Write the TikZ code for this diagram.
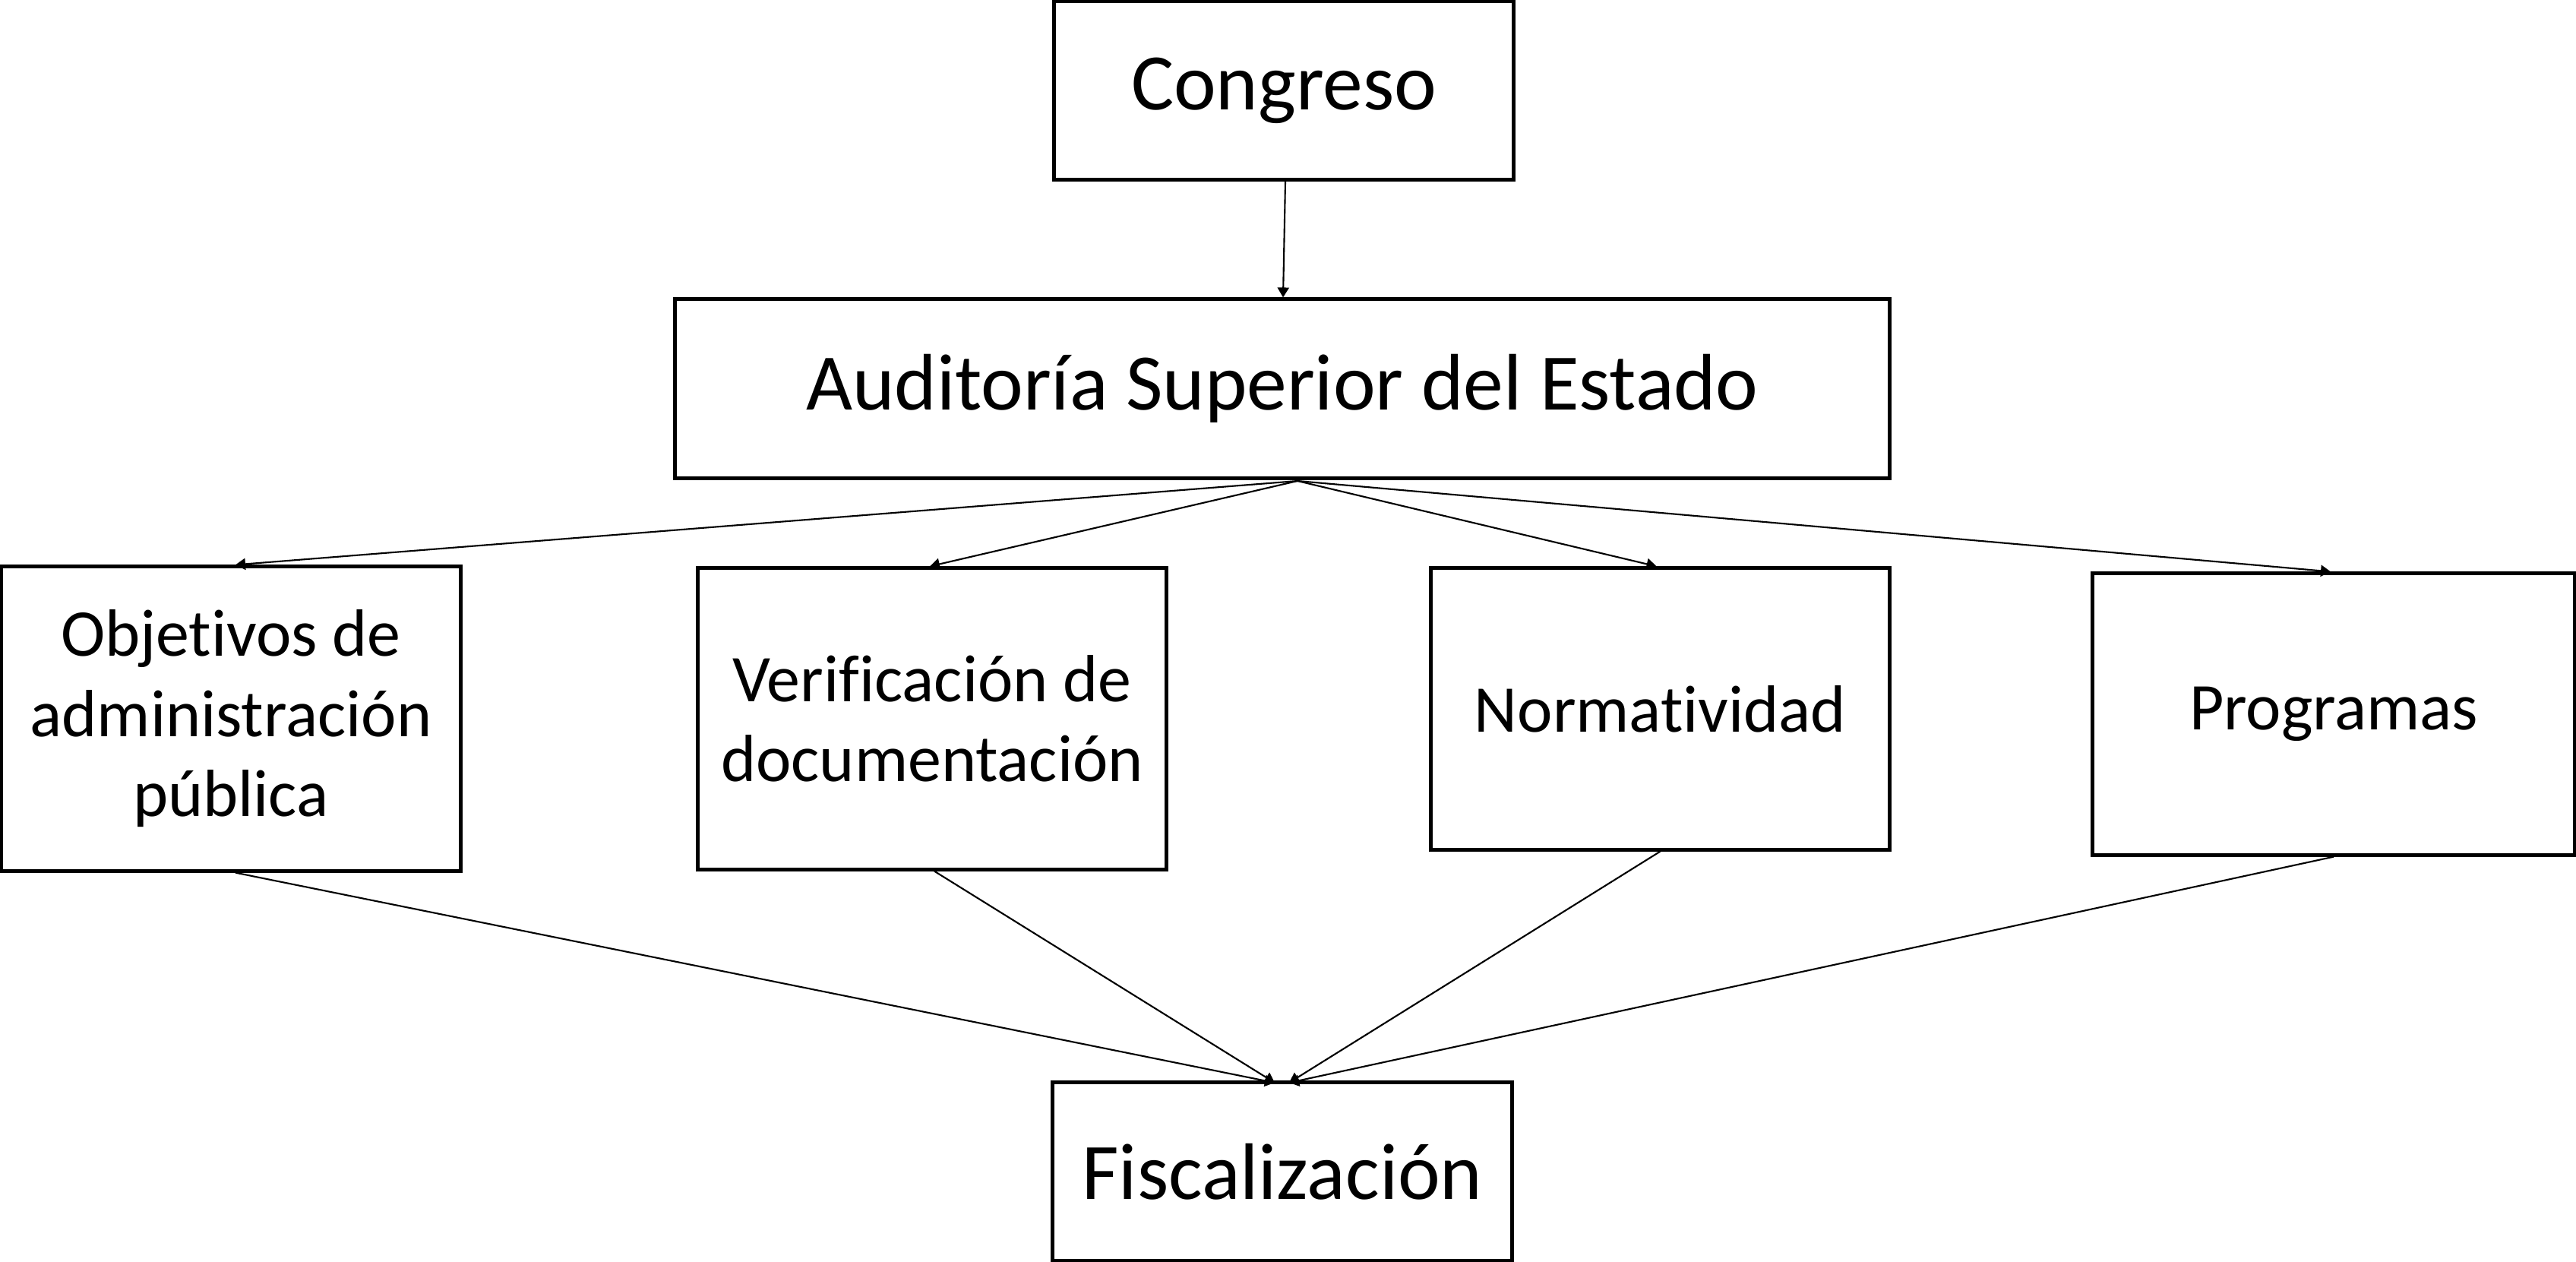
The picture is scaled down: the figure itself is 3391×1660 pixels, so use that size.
\documentclass[tikz,border=0pt]{standalone}
\usepackage{fontspec}
\setmainfont[Ligatures=NoCommon]{Carlito}
\usetikzlibrary{arrows.meta}
\tikzset{
  box/.style={draw=black, line width=1.42pt, rectangle, inner sep=0pt, align=center, font=\fontsize{25}{30}\selectfont},
  bigbox/.style={box, font=\fontsize{30}{34}\selectfont},
  conn/.style={draw=black, line width=0.6pt, -{Triangle[length=3.7pt,width=4.3pt]}}
}
\begin{document}
\begin{tikzpicture}[x=0.01cm,y=-0.01cm]
\useasboundingbox (0,0) rectangle (3391,1660);
\node[bigbox, minimum width=6.04cm, minimum height=2.34cm] (congreso) at (1690,119) {Congreso};
\node[bigbox, minimum width=15.98cm, minimum height=2.35cm] (auditoria) at (1688,511.5) {Auditoría Superior del Estado};
\node[box, minimum width=6.04cm, minimum height=4.00cm] (objetivos) at (304,946) {Objetivos de\\administración\\pública};
\node[box, minimum width=6.16cm, minimum height=3.96cm] (verificacion) at (1227,946) {Verificación de\\documentación};
\node[box, minimum width=6.03cm, minimum height=3.70cm] (normatividad) at (2185.5,933) {Normatividad};
\node[box, minimum width=6.34cm, minimum height=3.70cm] (programas) at (3072,940) {Programas};
\node[bigbox, minimum width=6.04cm, minimum height=2.35cm] (fiscalizacion) at (1688,1542) {Fiscalización};
\coordinate (fan) at (1708,633);
\coordinate (fA) at (1678,1425);
\coordinate (fB) at (1697,1425);
\draw[conn] ([xshift=0.02cm]congreso.south) -- ([xshift=0.01cm]auditoria.north);
\draw[conn] (fan) -- ([xshift=0.06cm]objetivos.north);
\draw[conn] (fan) -- ([xshift=-0.03cm]verificacion.north);
\draw[conn] (fan) -- ([xshift=-0.05cm]normatividad.north);
\draw[conn] (fan) -- ([xshift=-0.04cm]programas.north);
\draw[conn] ([xshift=0.06cm]objetivos.south) -- (fA);
\draw[conn] ([xshift=0.03cm]verificacion.south) -- (fA);
\draw[conn] (normatividad.south) -- (fB);
\draw[conn] (programas.south) -- (fB);
\end{tikzpicture}
\end{document}
